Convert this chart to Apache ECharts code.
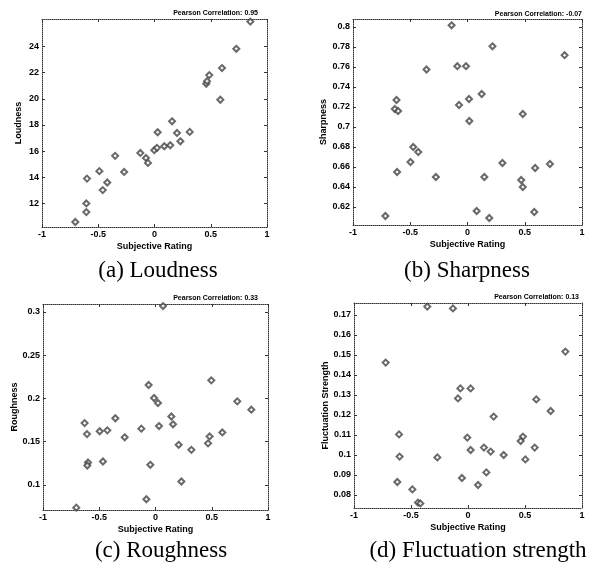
<!DOCTYPE html>
<html>
<head>
<meta charset="utf-8">
<script src="https://cdn.jsdelivr.net/npm/echarts@6/dist/echarts.min.js"></script>
<style>html,body{margin:0;padding:0;background:#fff;}#c{width:595px;height:569px;}</style>
</head>
<body>
<div id="c"></div>
<script>
// ---- data ----
const xTicks = [-1, -0.5, 0, 0.5, 1];

const loudX = [-0.704,-0.606,-0.606,-0.60,-0.49,-0.46,-0.42,-0.35,-0.27,-0.126,-0.076,-0.058,-0.002,0.022,0.028,0.087,0.14,0.156,0.20,0.23,0.313,0.46,0.467,0.487,0.585,0.60,0.727,0.852];
const loudY = [10.58,12.0,11.34,13.9,14.47,13.02,13.6,15.64,14.41,15.86,15.48,15.1,16.07,16.25,17.44,16.37,16.45,18.28,17.39,16.75,17.47,21.15,21.35,21.81,19.93,22.35,23.82,25.9];
const loudTicks = [12, 14, 16, 18, 20, 22, 24];

const sharpX = [-0.139,0.218,0.848,-0.358,-0.089,-0.013,-0.62,-0.635,-0.606,0.124,0.013,-0.074,0.016,0.483,-0.474,-0.43,-0.498,-0.615,-0.276,0.147,0.305,0.591,0.72,0.469,0.483,0.583,0.08,0.19,-0.717];
const sharpY = [0.8017,0.7807,0.7718,0.7575,0.7608,0.7608,0.727,0.718,0.716,0.733,0.728,0.722,0.706,0.713,0.680,0.675,0.665,0.655,0.650,0.650,0.664,0.659,0.663,0.647,0.640,0.615,0.616,0.609,0.611];
const sharpTicks = [0.62, 0.64, 0.66, 0.68, 0.7, 0.72, 0.74, 0.76, 0.78, 0.8];

const roughX = [0.067,-0.061,0.496,-0.013,0.022,0.727,0.852,0.141,0.156,0.031,-0.357,-0.126,-0.428,-0.496,-0.63,-0.609,-0.274,0.206,0.319,0.481,0.467,0.594,-0.60,-0.606,-0.467,-0.046,0.23,-0.081,-0.704];
const roughY = [0.3066,0.2154,0.2208,0.2004,0.1946,0.1965,0.1869,0.179,0.170,0.168,0.177,0.165,0.163,0.162,0.1714,0.1587,0.155,0.1463,0.1405,0.156,0.148,0.1606,0.1259,0.1224,0.127,0.1232,0.1039,0.0834,0.0737];
const roughTicks = [0.1, 0.15, 0.2, 0.25, 0.3];

const fluctX = [-0.357,-0.132,0.854,-0.722,-0.067,0.023,-0.088,0.599,0.725,0.225,-0.605,-0.006,0.482,0.462,0.14,0.023,0.199,0.585,0.313,-0.60,-0.269,0.503,0.161,-0.053,-0.62,0.088,-0.488,-0.439,-0.418];
const fluctY = [0.1742,0.1733,0.1517,0.1462,0.1333,0.1333,0.1283,0.1278,0.122,0.1192,0.1103,0.1087,0.1092,0.107,0.1037,0.1025,0.1017,0.1037,0.100,0.0992,0.0988,0.0978,0.0913,0.0885,0.0865,0.085,0.0828,0.0762,0.0758];
const fluctTicks = [0.08, 0.09, 0.1, 0.11, 0.12, 0.13, 0.14, 0.15, 0.16, 0.17];

const yNames = ['Loudness', 'Sharpness', 'Roughness', 'Fluctuation Strength'];
const xName = 'Subjective Rating';
const captions = ['(a) Loudness', '(b) Sharpness', '(c) Roughness', '(d) Fluctuation strength'];
const corrTexts = ['Pearson Correlation: 0.95', 'Pearson Correlation: -0.07', 'Pearson Correlation: 0.33', 'Pearson Correlation: 0.13'];

// ---- layout ----
const panels = [
  {x: loudX, y: loudY, ticks: loudTicks, min: 10.2, max: 26.1, grid: {left: 42, top: 19, width: 225, height: 208}, nameGap: 19, cap: [153, 254], corr: [253, 5]},
  {x: sharpX, y: sharpY, ticks: sharpTicks, min: 0.602, max: 0.808, grid: {left: 353, top: 19, width: 229, height: 206}, nameGap: 25, cap: [462, 254], corr: [577, 6]},
  {x: roughX, y: roughY, ticks: roughTicks, min: 0.071, max: 0.309, grid: {left: 43, top: 304, width: 225, height: 206}, nameGap: 23, cap: [156, 534], corr: [253, 290]},
  {x: fluctX, y: fluctY, ticks: fluctTicks, min: 0.0735, max: 0.176, grid: {left: 354, top: 303, width: 228, height: 205}, nameGap: 24, cap: [473, 534], corr: [574, 289]}
];

const font = 'Liberation Sans, Arial, sans-serif';
const lineStyle = {color: '#333', width: 1, type: 'dotted'};
const grids = [], xAxes = [], yAxes = [], series = [], titles = [];

panels.forEach((p, i) => {
  grids.push(Object.assign({containLabel: false}, p.grid));
  // bottom x axis
  xAxes.push({
    type: 'value', gridIndex: i, min: -1, max: 1, interval: 0.5, position: 'bottom',
    name: xName, nameLocation: 'middle', nameGap: 15,
    nameTextStyle: {fontSize: 9, fontWeight: 'bold', color: '#000', fontFamily: font},
    axisLine: {show: true, onZero: false, lineStyle: lineStyle},
    axisTick: {show: true, inside: true, length: 3, lineStyle: {color: '#333'}},
    axisLabel: {fontSize: 9, fontWeight: 'bold', color: '#000', fontFamily: font, margin: 3},
    splitLine: {show: false}
  });
  // top x axis (frame)
  xAxes.push({
    type: 'value', gridIndex: i, min: -1, max: 1, interval: 0.5, position: 'top',
    axisLine: {show: true, onZero: false, lineStyle: lineStyle},
    axisTick: {show: true, inside: true, length: 3, lineStyle: {color: '#333'}},
    axisLabel: {show: false}, splitLine: {show: false}
  });
  // left y axis
  yAxes.push({
    type: 'value', gridIndex: i, min: p.min, max: p.max, position: 'left',
    name: yNames[i], nameLocation: 'middle', nameGap: p.nameGap, nameRotate: 90,
    nameTextStyle: {fontSize: 9, fontWeight: 'bold', color: '#000', fontFamily: font},
    axisLine: {show: true, onZero: false, lineStyle: lineStyle},
    axisTick: {show: true, inside: true, length: 3, customValues: p.ticks, lineStyle: {color: '#333'}},
    axisLabel: {fontSize: 9, fontWeight: 'bold', color: '#000', fontFamily: font, margin: 3, customValues: p.ticks},
    splitLine: {show: false}
  });
  // right y axis (frame)
  yAxes.push({
    type: 'value', gridIndex: i, min: p.min, max: p.max, position: 'right',
    axisLine: {show: true, onZero: false, lineStyle: lineStyle},
    axisTick: {show: true, inside: true, length: 3, customValues: p.ticks, lineStyle: {color: '#333'}},
    axisLabel: {show: false, customValues: p.ticks}, splitLine: {show: false}
  });
  series.push({
    type: 'scatter', xAxisIndex: i * 2, yAxisIndex: i * 2,
    data: p.x.map((v, k) => [v, p.y[k]]),
    symbol: 'emptyDiamond', symbolSize: 6,
    itemStyle: {color: '#444', borderColor: '#444', borderWidth: 0.8},
    emphasis: {disabled: true}
  });
  titles.push({
    text: captions[i], left: p.cap[0], top: p.cap[1], textAlign: 'center',
    textStyle: {fontFamily: 'Liberation Serif, Times New Roman, serif', fontSize: 23, fontWeight: 'normal', color: '#000'}
  });
  titles.push({
    text: corrTexts[i], left: p.corr[0], top: p.corr[1], textAlign: 'right',
    textStyle: {fontFamily: font, fontSize: 7, fontWeight: 'bold', color: '#000'}
  });
});

const chart = echarts.init(document.getElementById('c'), null, {renderer: 'canvas'});
chart.setOption({
  animation: false,
  backgroundColor: '#fff',
  title: titles,
  grid: grids,
  xAxis: xAxes,
  yAxis: yAxes,
  series: series
});
</script>
</body>
</html>
